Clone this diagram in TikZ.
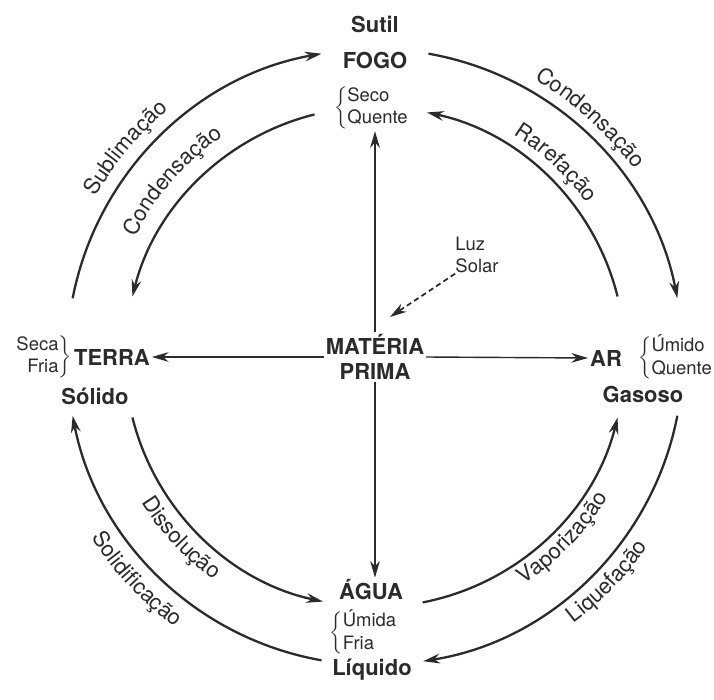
\documentclass[tikz,border=0pt]{standalone}
\usepackage{fontspec}
\setmainfont{TeX Gyre Heros}
\usetikzlibrary{positioning,arrows.meta,decorations.text}
\definecolor{ink}{HTML}{2b2b2b}

\tikzset{
  elem/.style={font=\bfseries\fontsize{12.5}{14}\selectfont, text=ink, inner sep=1pt},
  qual/.style={font=\fontsize{10.5}{13}\selectfont, text=ink, inner sep=0pt},
  change/.style={ink, line width=1.3pt, ->},
  axis/.style={ink, line width=0.8pt, ->},
  labelarc/.style={decorate, decoration={text along path, text align=center,
      text color=ink, text={|\fontsize{12.5}{14}\selectfont|#1}}},
}

\begin{document}
\begin{tikzpicture}[x=0.02cm, y=0.02cm, >={Stealth[length=9.5pt,width=5.5pt]}]
  \useasboundingbox[fill=white] (-375,-343) rectangle (339,357);

  % elements
  \node[elem, align=center] (materia) at (0,0) {MATÉRIA\\PRIMA};
  \node[elem] (sutil) at (0,333) {Sutil};
  \node[elem] (fogo) at (0,297) {FOGO};
  \node[qual] (fogoq) at (-3,249) {$\left\{\begin{tabular}{@{}l@{}}Seco\\Quente\end{tabular}\right.$};
  \node[elem] (terra) at (-263,0) {TERRA};
  \node[qual, left=0pt of terra] (terraq) {$\left.\begin{tabular}{@{}r@{}}Seca\\Fria\end{tabular}\right\}$};
  \node[elem] (solido) at (-280,-39) {Sólido};
  \node[elem] (ar) at (231,-1) {AR};
  \node[qual, right=8pt of ar] (arq) {$\left\{\begin{tabular}{@{}l@{}}Úmido\\Quente\end{tabular}\right.$};
  \node[elem] (gasoso) at (268,-37) {Gasoso};
  \node[elem] (agua) at (-4,-233) {ÁGUA};
  \node[qual] (aguaq) at (-11,-276) {$\left\{\begin{tabular}{@{}l@{}}Úmida\\Fria\end{tabular}\right.$};
  \node[elem] (liquido) at (-3,-313) {Líquido};
  \node[qual, align=left] (luz) at (102,102) {Luz\\Solar};
  \coordinate (raio) at (15,40);

  % axes
  \draw[axis] (materia.west) -- (terra.east);
  \draw[axis] (materia.east) -- (ar.west);
  \draw[axis] (materia.north) -- (materia.north |- fogoq.south);
  \draw[axis] (materia.south) -- (materia.south |- agua.north);
  \draw[axis, line width=1pt, dash pattern=on 3pt off 2pt] (luz.south west) -- (raio);

  % outer circle
  \draw[change] (169:308) arc[start angle=169, end angle=100, radius=308];
  \draw[change] (80:308) arc[start angle=80, end angle=11, radius=308];
  \draw[change] (-11:308) arc[start angle=-11, end angle=-81, radius=308];
  \draw[change] (-100:308) arc[start angle=-100, end angle=-169, radius=308];
  % inner circle
  \draw[change] (104:250) arc[start angle=104, end angle=166, radius=250];
  \draw[change] (14:250) arc[start angle=14, end angle=78, radius=250];
  \draw[change] (-79:250) arc[start angle=-79, end angle=-14, radius=250];
  \draw[change] (-166:250) arc[start angle=-166, end angle=-102, radius=250];

  % names of the changes
  \path[labelarc=Sublimação] (180:322) arc[start angle=180, end angle=100, radius=322];
  \path[labelarc=Condensação] (179:268) arc[start angle=179, end angle=99, radius=268];
  \path[labelarc=Condensação] (88:320) arc[start angle=88, end angle=8, radius=320];
  \path[labelarc=Rarefação] (87:262) arc[start angle=87, end angle=7, radius=262];
  \path[labelarc=Vaporização] (-84:272) arc[start angle=-84, end angle=-4, radius=272];
  \path[labelarc=Liquefação] (-84:332) arc[start angle=-84, end angle=-4, radius=332];
  \path[labelarc=Solidificação] (-177:336) arc[start angle=-177, end angle=-97, radius=336];
  \path[labelarc=Dissolução] (-177:275) arc[start angle=-177, end angle=-97, radius=275];
\end{tikzpicture}
\end{document}
